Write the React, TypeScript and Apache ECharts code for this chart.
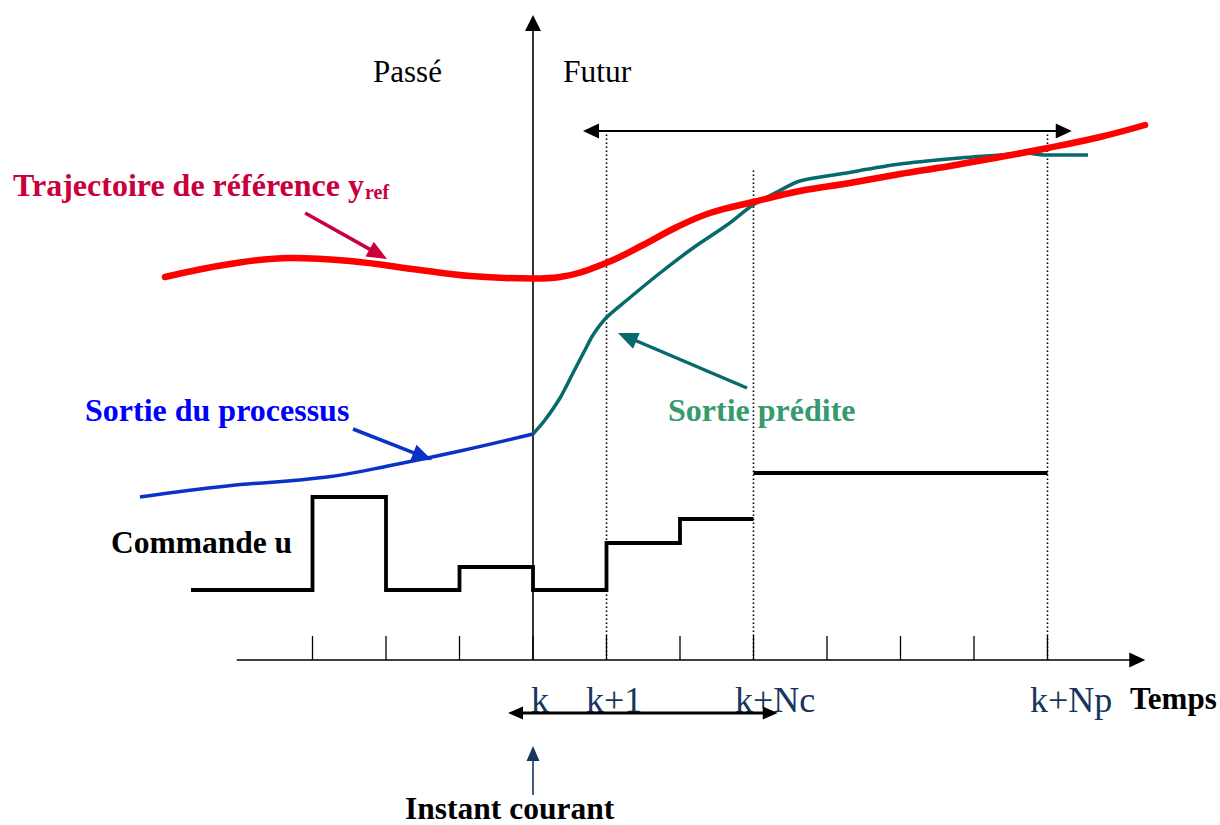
import { useEffect, useRef } from "react";
import * as echarts from "echarts";

// ---- scale (time steps, arbitrary output units) ----
const ORIGIN_X = 533; // pixel of t = k
const PX_PER_STEP = 73.5;
const AXIS_Y = 660; // pixel of value 0
const PX_PER_UNIT = 10;
const W = 1220;
const H = 825;

// ---- data: [time step relative to k, value] ----
const timeTicks = [-3, -2, -1, 0, 1, 2, 3, 4, 5, 6, 7];
const tickHeight = 2.4;

const refTrajectory: [number, number][] = [
  [-5.007, 38.3], [-4.122, 39.6], [-3.306, 40.2], [-2.49, 39.9], [-1.537, 39.0],
  [-0.857, 38.4], [0, 38.15], [0.367, 38.3], [0.993, 39.7], [1.497, 41.5], [1.959, 43.3],
  [2.408, 44.7], [2.993, 45.8], [3.633, 46.9], [4.313, 47.7],
  [4.993, 48.6], [5.673, 49.4], [6.354, 50.3], [7.007, 51.2], [7.714, 52.3], [8.327, 53.5],
];

const processOutput: [number, number][] = [
  [-5.347, 16.3], [-4.163, 17.4], [-2.803, 18.3], [-1.905, 19.5], [-0.993, 20.9], [0, 22.6],
];

const predictedOutput: [number, number][] = [
  [0, 22.6], [0.163, 24.0], [0.367, 26.2], [0.544, 28.7], [0.707, 31.0], [0.816, 32.5],
  [0.993, 34.2], [1.279, 36.0], [1.728, 38.7], [2.177, 41.2], [2.639, 43.5], [2.993, 45.5],
  [3.32, 46.8], [3.633, 47.9], [4.177, 48.6], [4.993, 49.6], [5.81, 50.2], [6.354, 50.5],
  [6.694, 50.7], [6.966, 50.5], [7.551, 50.5],
];

// command u: [segment start, level]
const commandPast: [number, number][] = [
  [-4.653, 7.0], [-3, 16.3], [-2, 7.0], [-1, 9.3], [0, 7.0], [1, 11.7], [2, 14.1], [3, 14.1],
];
const commandHold: [number, number][] = [[3, 18.7], [7, 18.7]];

const horizonMarks: [number, number][] = [[1, 52.9], [3, 49.0], [7, 52.9]]; // [step, top of dotted line]

// arrows: [x1, y1, x2(tip), y2(tip)]
const timeAxis = [-4.03, 0, 8.33, 0];
const valueAxis = [0, 0, 0, 64.5];
const predictionHorizon = [0.68, 52.9, 7.33, 52.9];
const controlHorizon = [-0.34, -5.3, 3.33, -5.3];
const currentInstant = [0, -13.5, 0, -8.6];
const refPointer = [-3.1, 44.7, -1.986, 40.1];
const processPointer = [-2.449, 23.1, -1.374, 20.0];
const predictedPointer = [2.912, 27.2, 1.156, 32.7];

const RED = "#ff0000";
const CRIMSON = "#c8003c";
const TEAL = "#066a6a";
const BLUE = "#0a32c8";
const NAVY = "#17365d";
const SERIF = '"Liberation Serif", "Times New Roman", serif';

function arrowSeries(
  coords: number[],
  color: string,
  width: number,
  headLen: number,
  headW: number,
  both: boolean
): any {
  return {
    type: "custom",
    silent: true,
    data: [coords],
    renderItem: (_p: any, api: any) => {
      const a = api.coord([api.value(0), api.value(1)]);
      const b = api.coord([api.value(2), api.value(3)]);
      const dx = b[0] - a[0];
      const dy = b[1] - a[1];
      const len = Math.sqrt(dx * dx + dy * dy) || 1;
      const ux = dx / len, uy = dy / len;
      const nx = -uy, ny = ux;
      const head = (tip: number[], sx: number, sy: number) => ({
        type: "polygon",
        shape: {
          points: [
            [tip[0], tip[1]],
            [tip[0] - sx * headLen + nx * headW / 2, tip[1] - sy * headLen + ny * headW / 2],
            [tip[0] - sx * headLen - nx * headW / 2, tip[1] - sy * headLen - ny * headW / 2],
          ],
        },
        style: { fill: color },
      });
      const s = both ? [a[0] + ux * headLen * 0.7, a[1] + uy * headLen * 0.7] : a;
      const e = [b[0] - ux * headLen * 0.7, b[1] - uy * headLen * 0.7];
      const children: any[] = [
        {
          type: "line",
          shape: { x1: s[0], y1: s[1], x2: e[0], y2: e[1] },
          style: { stroke: color, lineWidth: width },
        },
        head(b, ux, uy),
      ];
      if (both) children.push(head(a, -ux, -uy));
      return { type: "group", children };
    },
  };
}

function txt(text: string, x: number, y: number, size: number, color: string, bold: boolean): any {
  return {
    type: "text",
    x,
    y,
    silent: true,
    style: {
      text,
      fill: color,
      fontSize: size,
      fontFamily: SERIF,
      fontWeight: bold ? "bold" : "normal",
      align: "left",
      verticalAlign: "middle",
    },
  };
}

export default function App() {
  const ref = useRef<HTMLDivElement>(null);
  useEffect(() => {
    if (!ref.current) return;
    const chart = echarts.init(ref.current, undefined, { renderer: "svg" });
    const tMin = -ORIGIN_X / PX_PER_STEP;
    const tMax = (W - ORIGIN_X) / PX_PER_STEP;
    const vMin = -(H - AXIS_Y) / PX_PER_UNIT;
    const vMax = AXIS_Y / PX_PER_UNIT;

    const option: any = {
      animation: false,
      backgroundColor: "#ffffff",
      grid: { left: 0, right: 0, top: 0, bottom: 0 },
      xAxis: { type: "value", min: tMin, max: tMax, show: false },
      yAxis: { type: "value", min: vMin, max: vMax, show: false },
      series: [
        // dotted horizon markers
        ...horizonMarks.map(([t, top]) => ({
          type: "line",
          data: [[t, 0], [t, top]],
          symbol: "none",
          silent: true,
          lineStyle: { color: "#000", width: 1.6, type: [1.6, 2.4] },
        })),
        // time ticks
        ...timeTicks.map((t) => ({
          type: "line",
          data: [[t, 0], [t, tickHeight]],
          symbol: "none",
          silent: true,
          lineStyle: { color: "#000", width: 1.3 },
        })),
        arrowSeries(timeAxis, "#000", 1.6, 16, 15, false),
        arrowSeries(valueAxis, "#000", 1.6, 16, 16, false),
        arrowSeries(predictionHorizon, "#000", 2, 16, 15, true),
        arrowSeries(controlHorizon, "#000", 3, 15, 13, true),
        arrowSeries(currentInstant, NAVY, 1.6, 15, 13, false),
        // command u
        {
          type: "line",
          step: "end",
          data: commandPast,
          symbol: "none",
          silent: true,
          lineStyle: { color: "#000", width: 3.8, join: "miter" },
        },
        {
          type: "line",
          data: commandHold,
          symbol: "none",
          silent: true,
          lineStyle: { color: "#000", width: 4 },
        },
        // process output
        {
          type: "line",
          data: processOutput,
          smooth: 0.4,
          symbol: "none",
          silent: true,
          lineStyle: { color: BLUE, width: 3.5 },
        },
        // predicted output
        {
          type: "line",
          data: predictedOutput,
          smooth: 0.3,
          symbol: "none",
          silent: true,
          lineStyle: { color: TEAL, width: 3.5 },
        },
        // reference trajectory
        {
          type: "line",
          data: refTrajectory,
          smooth: 0.4,
          symbol: "none",
          silent: true,
          lineStyle: { color: RED, width: 6.5, cap: "round" },
        },
        arrowSeries(refPointer, CRIMSON, 3.5, 20, 17, false),
        arrowSeries(processPointer, BLUE, 3.5, 20, 17, false),
        arrowSeries(predictedPointer, TEAL, 3.5, 20, 17, false),
      ],
      graphic: [
        txt("Passé", 373, 71.5, 31, "#000", false),
        txt("Futur", 563, 71.5, 31.5, "#000", false),
        txt("Trajectoire de référence y", 13, 184.5, 32, CRIMSON, true),
        txt("ref", 365, 192, 20, CRIMSON, true),
        txt("Sortie du processus", 85, 409.5, 32, "#0000ff", true),
        txt("Sortie prédite", 668, 409.5, 32, "#359a6c", true),
        txt("Commande u", 111, 542, 31.5, "#000", true),
        txt("k", 531, 700, 36, NAVY, false),
        txt("k+1", 586, 700, 36, NAVY, false),
        txt("k+Nc", 735, 700, 36, NAVY, false),
        txt("k+Np", 1030, 700, 36, NAVY, false),
        txt("Temps", 1130, 698.5, 31, "#000", true),
        txt("Instant courant", 405, 808.5, 31.5, "#000", true),
      ],
    };
    chart.setOption(option);
    return () => chart.dispose();
  }, []);
  return (
    <div
      ref={ref}
      style={{ position: "absolute", left: 0, top: 0, width: W, height: H, background: "#fff" }}
    />
  );
}
